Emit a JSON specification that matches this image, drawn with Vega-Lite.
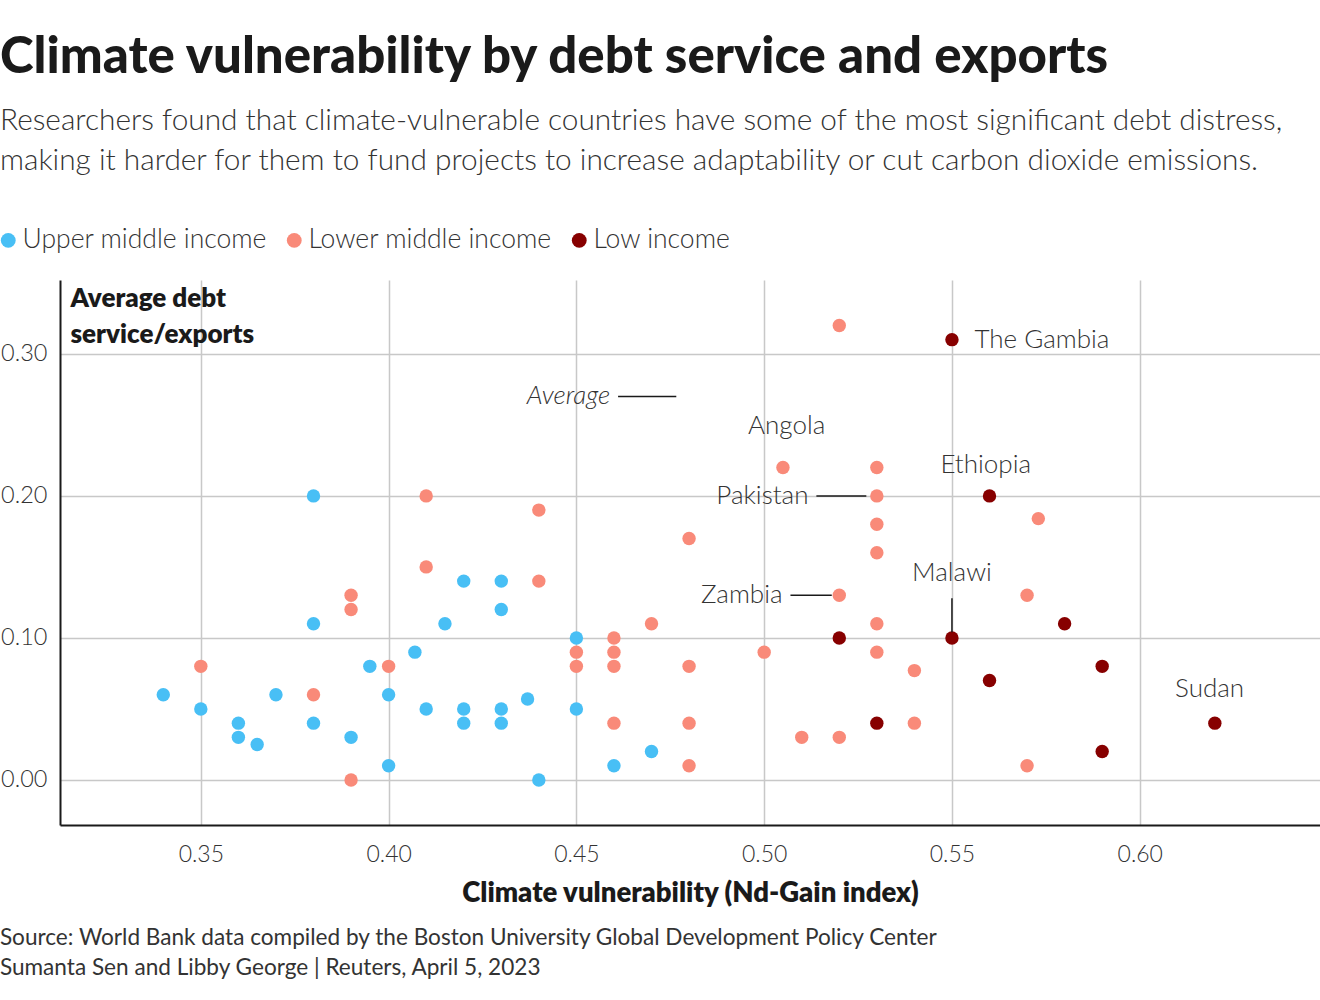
{
  "$schema": "https://vega.github.io/schema/vega-lite/v6.json",
  "width": 1260,
  "height": 545,
  "autosize": {"type": "none"},
  "padding": {"left": 60, "top": 280, "right": 0, "bottom": 175},
  "background": "white",
  "title": {
    "text": "Climate vulnerability by debt service and exports",
    "subtitle": ["Researchers found that climate-vulnerable countries have some of the most significant debt distress,", "making it harder for them to fund projects to increase adaptability or cut carbon dioxide emissions."],
    "anchor": "start",
    "frame": "group",
    "dx": -60,
    "offset": 50,
    "font": "Lato",
    "fontSize": 51,
    "fontWeight": 900,
    "color": "#1a1a1a",
    "subtitleFont": "Lato",
    "subtitleFontSize": 29.8,
    "subtitleFontWeight": 300,
    "subtitleColor": "#333333",
    "subtitleLineHeight": 40,
    "subtitlePadding": 22
  },
  "config": {
    "view": {"stroke": null},
    "font": "Lato"
  },
  "datasets": {
    "points": [
      {"x": 0.38, "y": 0.20, "g": "Upper middle income"},
      {"x": 0.38, "y": 0.11, "g": "Upper middle income"},
      {"x": 0.34, "y": 0.06, "g": "Upper middle income"},
      {"x": 0.35, "y": 0.05, "g": "Upper middle income"},
      {"x": 0.36, "y": 0.04, "g": "Upper middle income"},
      {"x": 0.36, "y": 0.03, "g": "Upper middle income"},
      {"x": 0.365, "y": 0.025, "g": "Upper middle income"},
      {"x": 0.37, "y": 0.06, "g": "Upper middle income"},
      {"x": 0.38, "y": 0.04, "g": "Upper middle income"},
      {"x": 0.39, "y": 0.03, "g": "Upper middle income"},
      {"x": 0.42, "y": 0.14, "g": "Upper middle income"},
      {"x": 0.43, "y": 0.14, "g": "Upper middle income"},
      {"x": 0.43, "y": 0.12, "g": "Upper middle income"},
      {"x": 0.415, "y": 0.11, "g": "Upper middle income"},
      {"x": 0.45, "y": 0.10, "g": "Upper middle income"},
      {"x": 0.407, "y": 0.09, "g": "Upper middle income"},
      {"x": 0.395, "y": 0.08, "g": "Upper middle income"},
      {"x": 0.40, "y": 0.06, "g": "Upper middle income"},
      {"x": 0.437, "y": 0.057, "g": "Upper middle income"},
      {"x": 0.41, "y": 0.05, "g": "Upper middle income"},
      {"x": 0.42, "y": 0.05, "g": "Upper middle income"},
      {"x": 0.43, "y": 0.05, "g": "Upper middle income"},
      {"x": 0.45, "y": 0.05, "g": "Upper middle income"},
      {"x": 0.42, "y": 0.04, "g": "Upper middle income"},
      {"x": 0.43, "y": 0.04, "g": "Upper middle income"},
      {"x": 0.47, "y": 0.02, "g": "Upper middle income"},
      {"x": 0.40, "y": 0.01, "g": "Upper middle income"},
      {"x": 0.46, "y": 0.01, "g": "Upper middle income"},
      {"x": 0.44, "y": 0.00, "g": "Upper middle income"},
      {"x": 0.39, "y": 0.13, "g": "Lower middle income"},
      {"x": 0.39, "y": 0.12, "g": "Lower middle income"},
      {"x": 0.35, "y": 0.08, "g": "Lower middle income"},
      {"x": 0.38, "y": 0.06, "g": "Lower middle income"},
      {"x": 0.39, "y": 0.00, "g": "Lower middle income"},
      {"x": 0.41, "y": 0.20, "g": "Lower middle income"},
      {"x": 0.44, "y": 0.19, "g": "Lower middle income"},
      {"x": 0.48, "y": 0.17, "g": "Lower middle income"},
      {"x": 0.41, "y": 0.15, "g": "Lower middle income"},
      {"x": 0.44, "y": 0.14, "g": "Lower middle income"},
      {"x": 0.47, "y": 0.11, "g": "Lower middle income"},
      {"x": 0.46, "y": 0.10, "g": "Lower middle income"},
      {"x": 0.45, "y": 0.09, "g": "Lower middle income"},
      {"x": 0.46, "y": 0.09, "g": "Lower middle income"},
      {"x": 0.40, "y": 0.08, "g": "Lower middle income"},
      {"x": 0.45, "y": 0.08, "g": "Lower middle income"},
      {"x": 0.46, "y": 0.08, "g": "Lower middle income"},
      {"x": 0.48, "y": 0.08, "g": "Lower middle income"},
      {"x": 0.46, "y": 0.04, "g": "Lower middle income"},
      {"x": 0.48, "y": 0.04, "g": "Lower middle income"},
      {"x": 0.48, "y": 0.01, "g": "Lower middle income"},
      {"x": 0.52, "y": 0.32, "g": "Lower middle income"},
      {"x": 0.505, "y": 0.22, "g": "Lower middle income"},
      {"x": 0.53, "y": 0.22, "g": "Lower middle income"},
      {"x": 0.53, "y": 0.20, "g": "Lower middle income"},
      {"x": 0.573, "y": 0.184, "g": "Lower middle income"},
      {"x": 0.53, "y": 0.18, "g": "Lower middle income"},
      {"x": 0.53, "y": 0.16, "g": "Lower middle income"},
      {"x": 0.52, "y": 0.13, "g": "Lower middle income"},
      {"x": 0.57, "y": 0.13, "g": "Lower middle income"},
      {"x": 0.53, "y": 0.11, "g": "Lower middle income"},
      {"x": 0.50, "y": 0.09, "g": "Lower middle income"},
      {"x": 0.53, "y": 0.09, "g": "Lower middle income"},
      {"x": 0.54, "y": 0.077, "g": "Lower middle income"},
      {"x": 0.54, "y": 0.04, "g": "Lower middle income"},
      {"x": 0.51, "y": 0.03, "g": "Lower middle income"},
      {"x": 0.52, "y": 0.03, "g": "Lower middle income"},
      {"x": 0.57, "y": 0.01, "g": "Lower middle income"},
      {"x": 0.55, "y": 0.31, "g": "Low income"},
      {"x": 0.56, "y": 0.20, "g": "Low income"},
      {"x": 0.52, "y": 0.10, "g": "Low income"},
      {"x": 0.55, "y": 0.10, "g": "Low income"},
      {"x": 0.56, "y": 0.07, "g": "Low income"},
      {"x": 0.53, "y": 0.04, "g": "Low income"},
      {"x": 0.58, "y": 0.11, "g": "Low income"},
      {"x": 0.59, "y": 0.08, "g": "Low income"},
      {"x": 0.62, "y": 0.04, "g": "Low income"},
      {"x": 0.59, "y": 0.02, "g": "Low income"}
    ],
    "labels": [
      {"x": 0.556, "y": 0.31, "label": "The Gambia", "align": "left"},
      {"x": 0.506, "y": 0.249, "label": "Angola", "align": "center"},
      {"x": 0.559, "y": 0.222, "label": "Ethiopia", "align": "center"},
      {"x": 0.5118, "y": 0.20, "label": "Pakistan", "align": "right"},
      {"x": 0.5049, "y": 0.13, "label": "Zambia", "align": "right"},
      {"x": 0.55, "y": 0.146, "label": "Malawi", "align": "center"},
      {"x": 0.6186, "y": 0.064, "label": "Sudan", "align": "center"}
    ],
    "leaders": [
      {"x": 0.5139, "x2": 0.5272, "y": 0.20, "y2": 0.20},
      {"x": 0.507, "x2": 0.518, "y": 0.13, "y2": 0.13},
      {"x": 0.55, "x2": 0.55, "y": 0.128, "y2": 0.104},
      {"x": 0.4611, "x2": 0.4766, "y": 0.27, "y2": 0.27}
    ]
  },
  "layer": [
    {
      "mark": {"type": "rule", "color": "#6e6e6e", "strokeWidth": 3, "strokeDash": [9, 6]},
      "encoding": {"y": {"datum": 0.09, "type": "quantitative", "scale": {"domain": [-0.0317, 0.352], "nice": false, "zero": false}}}
    },
    {
      "data": {"name": "points"},
      "mark": {"type": "circle", "size": 180, "opacity": 1},
      "encoding": {
        "x": {
          "field": "x", "type": "quantitative",
          "scale": {"domain": [0.3125, 0.648], "nice": false, "zero": false},
          "axis": {
            "values": [0.35, 0.40, 0.45, 0.50, 0.55, 0.60],
            "format": ".2f",
            "title": "Climate vulnerability (Nd-Gain index)",
            "titleFont": "Lato", "titleFontSize": 27.5, "titleFontWeight": 800, "titleColor": "#1a1a1a",
            "titlePadding": 13,
            "labelFont": "Lato", "labelFontSize": 23, "labelFontWeight": 300, "labelColor": "#333333",
            "labelPadding": 18,
            "ticks": false,
            "domainColor": "#1a1a1a", "domainWidth": 2,
            "grid": true, "gridColor": "#c8c8c8", "gridWidth": 1.5
          }
        },
        "y": {
          "field": "y", "type": "quantitative",
          "scale": {"domain": [-0.0317, 0.352], "nice": false, "zero": false},
          "axis": {
            "values": [0, 0.1, 0.2, 0.3],
            "format": ".2f",
            "title": ["Average debt", "service/exports"],
            "titleAngle": 0, "titleAlign": "left", "titleBaseline": "top",
            "titleX": 10, "titleY": 5,
            "titleFont": "Lato", "titleFontSize": 26, "titleFontWeight": 800, "titleColor": "#1a1a1a",
            "titleLineHeight": 36,
            "labelFont": "Lato", "labelFontSize": 23.5, "labelFontWeight": 300, "labelColor": "#333333",
            "labelPadding": 13,
            "ticks": false,
            "domainColor": "#1a1a1a", "domainWidth": 2,
            "grid": true, "gridColor": "#c8c8c8", "gridWidth": 1.5
          }
        },
        "color": {
          "field": "g", "type": "nominal",
          "scale": {"domain": ["Upper middle income", "Lower middle income", "Low income"], "range": ["#48bff5", "#f98a79", "#870000"]},
          "legend": {
            "title": null,
            "orient": "none",
            "legendX": -65,
            "legendY": -53,
            "direction": "horizontal",
            "symbolType": "circle",
            "symbolSize": 220,
            "symbolStrokeWidth": 0,
            "labelFont": "Lato", "labelFontSize": 26.5, "labelFontWeight": 300, "labelColor": "#333333",
            "labelOffset": 1,
            "labelLimit": 500,
            "columnPadding": 14
          }
        }
      }
    },
    {
      "mark": {"type": "rule", "color": "#6e6e6e", "strokeWidth": 3, "strokeDash": [9, 6]},
      "encoding": {"x": {"datum": 0.48, "type": "quantitative"}}
    },
    {
      "data": {"name": "leaders"},
      "mark": {"type": "rule", "color": "#1a1a1a", "strokeWidth": 1.5},
      "encoding": {
        "x": {"field": "x", "type": "quantitative"},
        "x2": {"field": "x2"},
        "y": {"field": "y", "type": "quantitative"},
        "y2": {"field": "y2"}
      }
    },
    {
      "data": {"name": "labels"},
      "transform": [{"filter": "datum.align == 'left'"}],
      "mark": {"type": "text", "align": "left", "baseline": "middle", "font": "Lato", "fontSize": 26, "fontWeight": 300, "color": "#333333"},
      "encoding": {"x": {"field": "x", "type": "quantitative"}, "y": {"field": "y", "type": "quantitative"}, "text": {"field": "label"}}
    },
    {
      "data": {"name": "labels"},
      "transform": [{"filter": "datum.align == 'center'"}],
      "mark": {"type": "text", "align": "center", "baseline": "middle", "font": "Lato", "fontSize": 26, "fontWeight": 300, "color": "#333333"},
      "encoding": {"x": {"field": "x", "type": "quantitative"}, "y": {"field": "y", "type": "quantitative"}, "text": {"field": "label"}}
    },
    {
      "data": {"name": "labels"},
      "transform": [{"filter": "datum.align == 'right'"}],
      "mark": {"type": "text", "align": "right", "baseline": "middle", "font": "Lato", "fontSize": 26, "fontWeight": 300, "color": "#333333"},
      "encoding": {"x": {"field": "x", "type": "quantitative"}, "y": {"field": "y", "type": "quantitative"}, "text": {"field": "label"}}
    },
    {
      "data": {"values": [{"x": 0.459, "y": 0.27, "label": "Average"}]},
      "mark": {"type": "text", "align": "right", "baseline": "middle", "font": "Lato", "fontSize": 26, "fontWeight": 300, "fontStyle": "italic", "color": "#333333"},
      "encoding": {"x": {"field": "x", "type": "quantitative"}, "y": {"field": "y", "type": "quantitative"}, "text": {"field": "label"}}
    },
    {
      "data": {"values": [{"x": 0.2965, "y": -0.111, "label": "Source: World Bank data compiled by the Boston University Global Development Policy Center"}, {"x": 0.2965, "y": -0.1325, "label": "Sumanta Sen and Libby George | Reuters, April 5, 2023"}]},
      "mark": {"type": "text", "align": "left", "baseline": "middle", "font": "Lato", "fontSize": 22.6, "fontWeight": 400, "color": "#333333"},
      "encoding": {"x": {"field": "x", "type": "quantitative"}, "y": {"field": "y", "type": "quantitative"}, "text": {"field": "label"}}
    }
  ]
}
